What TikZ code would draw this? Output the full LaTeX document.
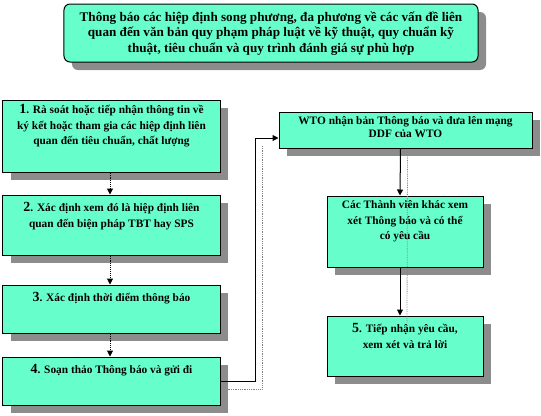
\documentclass[tikz,border=0pt]{standalone}
\usepackage{fontspec}
\setmainfont{Liberation Serif}
\usetikzlibrary{arrows.meta,shadows,calc}
\definecolor{boxfill}{HTML}{66FFCC}
\definecolor{shadowgray}{HTML}{8C8C8C}
\begin{document}
\begin{tikzpicture}[x=1bp,y=-1bp,
  box/.style={draw=black,line width=1bp,fill=boxfill,inner sep=0pt,
    drop shadow={shadow xshift=8bp,shadow yshift=-8bp,fill=shadowgray,opacity=1}},
  txt/.style={anchor=north,align=center,inner sep=0pt,font=\bfseries\fontsize{11.4}{15.5}\selectfont},
  dotarr/.style={densely dotted,line width=1bp,-{Triangle[width=6bp,length=6bp]}},
  solarr/.style={line width=1bp,-{Triangle[width=6bp,length=6bp]}},
  shline/.style={gray,densely dotted,line width=0.8bp}]
\useasboundingbox (0,0) rectangle (541,415);
% boxes
\node[box,rounded corners=6bp,minimum width=414bp,minimum height=58bp] (top) at (271,33) {};
\node[box,minimum width=217bp,minimum height=72bp] (b1) at (111.5,136) {};
\node[box,minimum width=217bp,minimum height=60bp] (b2) at (111.5,225) {};
\node[box,minimum width=217bp,minimum height=48bp] (b3) at (111.5,309) {};
\node[box,minimum width=217bp,minimum height=48bp] (b4) at (111.5,381) {};
\node[box,minimum width=253bp,minimum height=36bp] (wto) at (405.5,130) {};
\node[box,minimum width=156bp,minimum height=71bp] (cac) at (405,231.5) {};
\node[box,minimum width=156bp,minimum height=60bp] (b5) at (405,346) {};
% texts
\node[txt,font=\bfseries\fontsize{13.2}{15.5}\selectfont] (ttop) at ([yshift=-8bp]top.north)
  {Thông báo các hiệp định song phương, đa phương về các vấn đề liên\\
   quan đến văn bản quy phạm pháp luật về kỹ thuật, quy chuẩn kỹ\\
   thuật, tiêu chuẩn và quy trình đánh giá sự phù hợp};
\node[txt] (t1) at ([yshift=-5bp]b1.north)
  {{\fontsize{14}{15}\selectfont 1}. Rà soát hoặc tiếp nhận thông tin về\\
   ký kết hoặc tham gia các hiệp định liên\\
   quan đến tiêu chuẩn, chất lượng};
\node[txt] (t2) at ([yshift=-8bp]b2.north)
  {{\fontsize{14}{15}\selectfont 2}. Xác định xem đó là hiệp định liên\\
   quan đến biện pháp TBT hay SPS};
\node[txt] (t3) at ([yshift=-8bp]b3.north)
  {{\fontsize{14}{15}\selectfont 3}. Xác định thời điểm thông báo};
\node[txt] (t4) at ([yshift=-8bp]b4.north)
  {{\fontsize{14}{15}\selectfont 4}. Soạn thảo Thông báo và gửi đi};
\node[txt,font=\bfseries\fontsize{11.4}{13}\selectfont] (twto) at ([yshift=-5bp]wto.north)
  {WTO nhận bản Thông báo và đưa lên mạng\\ DDF của WTO};
\node[txt] (tcac) at ([yshift=-5bp]cac.north)
  {Các Thành viên khác xem\\ xét Thông báo và có thể\\ có yêu cầu};
\node[txt] (t5) at ([yshift=-8bp]b5.north)
  {{\fontsize{14}{15}\selectfont 5}. Tiếp nhận yêu cầu,\\ xem xét và trả lời};
% connector shadows
\begin{scope}[transform canvas={xshift=7bp,yshift=-8bp}]
\draw[shline] (b4.east) -| (255,138);
\draw[shline] ([xshift=-5bp]wto.south) -- ([xshift=-5bp]b5.north);
\end{scope}
% connectors
\draw[dotarr] (b1.south -| 110,0) -- (b2.north -| 110,0);
\draw[dotarr] (b2.south -| 110,0) -- (b3.north -| 110,0);
\draw[dotarr] (b3.south -| 110,0) -- (b4.north -| 110,0);
\coordinate (k) at (255,138);
\draw[solarr] (b4.east) -| (k) -- (wto.west |- k);
\draw[solarr] ([xshift=-5bp]wto.south) -- ([xshift=-5bp]cac.north);
\draw[solarr] ([xshift=-5bp]cac.south) -- ([xshift=-5bp]b5.north);
\end{tikzpicture}
\end{document}
